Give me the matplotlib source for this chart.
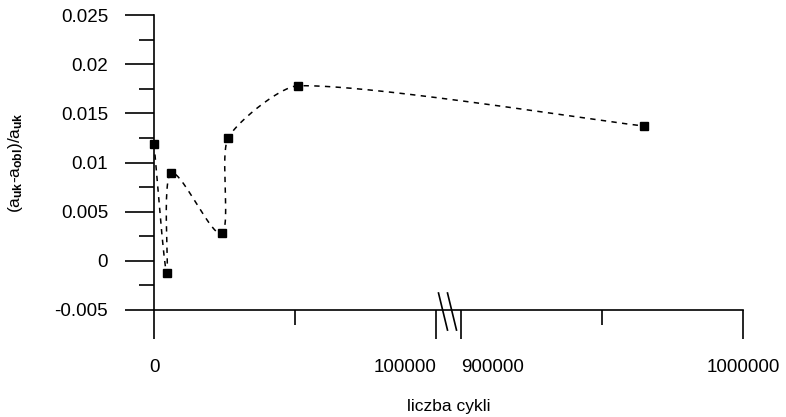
import numpy as np
import matplotlib
matplotlib.use("Agg")
import matplotlib.pyplot as plt
import matplotlib.transforms as mtransforms

# ---- data ----
cycles = [0, 4500, 6000, 24000, 26300, 51000, 965000]
values = [0.0119, -0.0012, 0.0089, 0.0028, 0.0125, 0.0178, 0.0137]
y_ticks = [-0.005, 0, 0.005, 0.01, 0.015, 0.02, 0.025]
y_ticklabels = ["-0.005", "0", "0.005", "0.01", "0.015", "0.02", "0.025"]
x_tick_values = [0, 100000, 900000, 1000000]
x_tick_labels = ["0", "100000", "900000", "1000000"]
x_minor_values = [50000, 950000]

# broken axis: [0, 100000] and [900000, 1000000]
LEFT_MAX = 100000
RIGHT_MIN = 900000
RIGHT_MAX = 1000000
GAP = 8865.0


def to_axis(x):
    x = np.asarray(x, dtype=float)
    return np.where(x <= LEFT_MAX, x, x - RIGHT_MIN + LEFT_MAX + GAP)


plt.rcParams['font.family'] = ['Liberation Sans', 'DejaVu Sans']
plt.rcParams['mathtext.fontset'] = 'custom'
plt.rcParams['mathtext.rm'] = 'Liberation Sans'
plt.rcParams['mathtext.it'] = 'Liberation Sans'
plt.rcParams['mathtext.bf'] = 'Liberation Sans:bold'

fig = plt.figure(figsize=(7.86, 4.17), dpi=100)
ax = fig.add_axes([154 / 786, (417 - 310) / 417, (743 - 154) / 786, (310 - 15) / 417])

xmax = float(to_axis(RIGHT_MAX))
ax.set_xlim(0, xmax)
ax.set_ylim(-0.005, 0.025)

for s in ['top', 'right']:
    ax.spines[s].set_visible(False)
for s in ['left', 'bottom']:
    ax.spines[s].set_linewidth(1.2)

ax.set_yticks(y_ticks)
ax.set_yticklabels(y_ticklabels)
ax.set_yticks([-0.0025, 0.0025, 0.0075, 0.0125, 0.0175, 0.0225], minor=True)
ax.set_xticks(to_axis(x_tick_values))
ax.set_xticklabels(x_tick_labels)
ax.set_xticks(to_axis(x_minor_values), minor=True)

ax.tick_params(axis='both', which='major', direction='out', length=21, width=1.2,
               labelsize=13.5, colors='black', pad=12)
ax.tick_params(axis='both', which='minor', direction='out', length=10.5, width=1.2)
ax.tick_params(axis='x', which='major', pad=14)
labels = ax.get_xticklabels()
labels[1].set_ha('right')
labels[2].set_ha('left')

ax.set_xlabel('liczba cykli', fontsize=12.5, labelpad=17)
ax.set_ylabel(r'$(a_{\mathbf{uk}}$-$a_{\mathbf{obl}})/a_{\mathbf{uk}}$', fontsize=12.5)
ax.yaxis.set_label_coords((25 - 154) / 589, (310 - 163) / 295)

# smoothed dashed line (Bezier in display space, like Excel smoothing)
fig.canvas.draw()
u = to_axis(cycles)
pts = ax.transData.transform(np.column_stack([u, values]))
P = np.vstack([pts[0], pts, pts[-1]])


def clamp(vec, limit):
    n = np.hypot(*vec)
    return vec if n <= limit or n == 0 else vec * (limit / n)


curve = []
for i in range(1, len(P) - 2):
    p0, p1, p2, p3 = P[i - 1], P[i], P[i + 1], P[i + 2]
    seglen = np.hypot(*(p2 - p1))
    c1 = p1 + clamp((p2 - p0) / 6.0, seglen / 5.0)
    c2 = p2 - clamp((p3 - p1) / 6.0, seglen / 5.0)
    t = np.linspace(0, 1, 60)[:, None]
    seg = ((1 - t) ** 3) * p1 + 3 * ((1 - t) ** 2) * t * c1 + 3 * (1 - t) * t ** 2 * c2 + t ** 3 * p2
    curve.append(seg if i == 1 else seg[1:])
curve = np.vstack(curve)
curve_data = ax.transData.inverted().transform(curve)
ax.plot(curve_data[:, 0], curve_data[:, 1], color='black', lw=1.1,
        linestyle=(0, (3.5, 3.5)), clip_on=False)
ax.plot(u, values, linestyle='none', marker='s', markersize=6, color='black', clip_on=False)

# break marks
trans = mtransforms.blended_transform_factory(ax.transData, ax.transAxes)
bc = LEFT_MAX + GAP / 2
px = LEFT_MAX / 282.0
for off in (-5.5, 3.5):
    ax.plot([bc + (off - 4.5) * px, bc + (off + 4.5) * px], [0.0576, -0.068],
            transform=trans, color='black', lw=1.2, clip_on=False)

fig.savefig('out.png', dpi=100)
